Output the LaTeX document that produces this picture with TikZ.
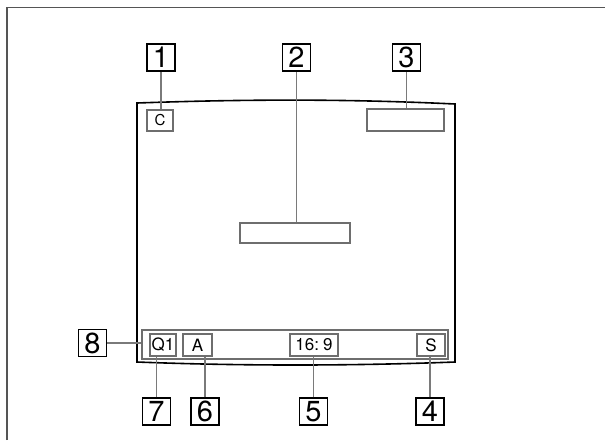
\documentclass[tikz,border=0pt]{standalone}
\usepackage{fontspec}
\setmainfont{TeX Gyre Heros}
\usetikzlibrary{positioning}
\definecolor{frameGray}{HTML}{555555}
\definecolor{leadGray}{HTML}{7A7A7A}
\definecolor{boxGray}{HTML}{6E6E6E}

\begin{document}
\begin{tikzpicture}[x=1pt,y=-1pt,
    numbox/.style={draw=black, line width=1.5pt, minimum width=28pt, minimum height=27pt, inner sep=0pt, font=\fontsize{29}{29}\selectfont},
    itembox/.style={draw=boxGray, line width=1.8pt, inner sep=0pt, minimum height=22pt, font=\fontsize{17}{17}\selectfont},
    leader/.style={draw=leadGray, line width=1.4pt}]
        \useasboundingbox (0,0) rectangle (605,440);
        % outer frame
        \draw[frameGray, line width=1.2pt] (7,440) -- (7,7.5) -- (605,7.5);
        % screen
        \draw[line width=1.6pt] (137,103) .. controls (250,99) and (350,99) .. (455,104)
            -- (455,362) .. controls (350,366) and (240,366) .. (137,362) -- cycle;

        % indicators on the screen
        \node[itembox, minimum width=26pt, minimum height=21pt, font=\fontsize{15}{15}\selectfont] (ind1) at (160,120.5) {C};
        \node[itembox, minimum width=77pt] (ind3) at (405.5,120) {};
        \node[itembox, minimum width=110pt, minimum height=20pt] (ind2) at (295,233) {};
        \node[itembox, minimum width=306pt, minimum height=29pt] (bar) at (295,344.5) {};
        \node[itembox, minimum width=26pt] (ind7) at (163,345) {Q1};
        \node[itembox, minimum width=29pt] (ind6) at (197.5,345) {A};
        \node[itembox, minimum width=48pt] (ind5) at (314,345) {16:\hspace{4pt}9};
        \node[itembox, minimum width=28pt] (ind4) at (431,345) {S};

        % callout numbers
        \node[numbox] (n1) at (161,57.5) {1};
        \node[numbox] (n2) at (296.5,57.5) {2};
        \node[numbox] (n3) at (406.5,57.5) {3};
        \node[numbox] (n8) at (92.5,343) {8};
        \node[numbox] (n7) at (156.5,411.5) {7};
        \node[numbox] (n6) at (205,411.5) {6};
        \node[numbox] (n5) at (313.5,411.5) {5};
        \node[numbox] (n4) at (430,411.5) {4};

        % leaders
        \draw[leader] (n1.south) -- (n1.south |- ind1.north);
        \draw[leader] (n2.south) -- (n2.south |- ind2.north);
        \draw[leader] (n3.south) -- (n3.south |- ind3.north);
        \draw[leader] (n8.east) -- (bar.west |- n8.east);
        \draw[leader] (n7.north) -- (n7.north |- ind7.south);
        \draw[leader] (n6.north) -- (n6.north |- ind6.south);
        \draw[leader] (n5.north) -- (n5.north |- ind5.south);
        \draw[leader] (n4.north) -- (n4.north |- ind4.south);
    \end{tikzpicture}
\end{document}
